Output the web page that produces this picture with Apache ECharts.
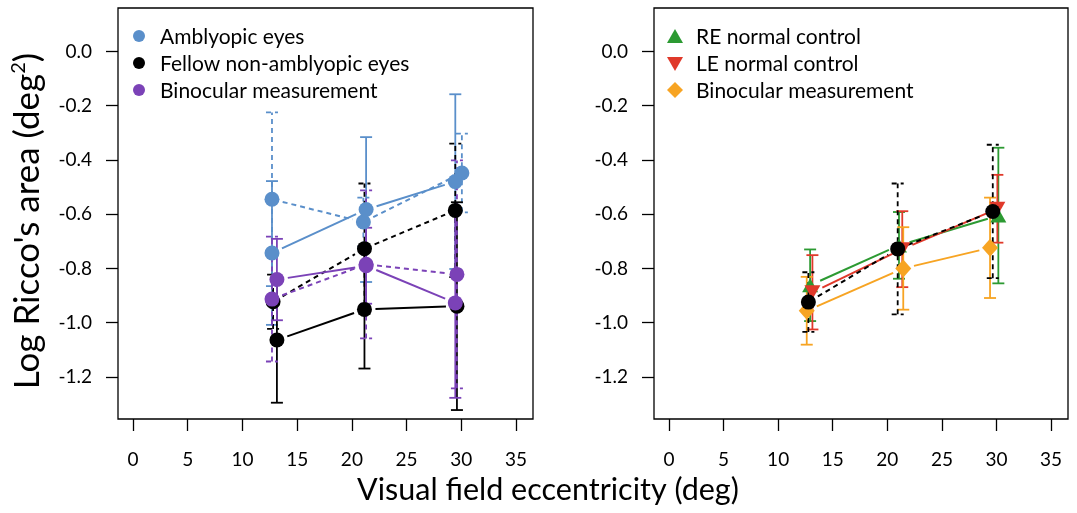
<!DOCTYPE html>
<html lang="en">
<head>
    <meta charset="UTF-8">
    <title>Log Ricco's area vs eccentricity</title>
    <script src="https://cdn.jsdelivr.net/npm/echarts@6.0.0/dist/echarts.min.js"></script>
    <style>
        body { margin: 0; padding: 0; background: #fff; }
        #chart { width: 1077px; height: 513px; }
    </style>
</head>
<body>
    <div id="chart"></div>
    <script>
        // tick labels
        const xTicks = [0, 5, 10, 15, 20, 25, 30, 35];
        const yTicks = [0, -0.2, -0.4, -0.6, -0.8, -1.0, -1.2];

        // left panel: amblyopic group (solid / dashed = two conditions)
        const ambSolidX = [12.7, 21.3, 29.45];
        const ambSolidY = [-0.743, -0.583, -0.48];
        const ambSolidErr = [0.265, 0.267, 0.322];
        const ambDashX = [12.7, 21.05, 30.05];
        const ambDashY = [-0.545, -0.629, -0.448];
        const ambDashErr = [0.32, 0.09, 0.145];

        const fellowSolidX = [13.15, 21.15, 29.6];
        const fellowSolidY = [-1.064, -0.951, -0.939];
        const fellowSolidErr = [0.231, 0.218, 0.383];
        const fellowDashX = [12.8, 21.15, 29.45];
        const fellowDashY = [-0.923, -0.727, -0.586];
        const fellowDashErr = [0.1, 0.24, 0.246];

        const binoSolidX = [13.15, 21.3, 29.45];
        const binoSolidY = [-0.841, -0.79, -0.927];
        const binoSolidErr = [0.15, 0.14, 0.35];
        const binoDashX = [12.7, 21.3, 29.6];
        const binoDashY = [-0.913, -0.785, -0.822];
        const binoDashErr = [0.23, 0.273, 0.42];

        // right panel: normal controls
        const reX = [12.93, 21.07, 30.17];
        const reY = [-0.862, -0.715, -0.605];
        const reErr = [0.132, 0.123, 0.25];
        const leX = [13.14, 21.37, 30.08];
        const leY = [-0.888, -0.729, -0.58];
        const leErr = [0.137, 0.14, 0.125];
        const ctrlBinoX = [12.62, 21.46, 29.41];
        const ctrlBinoY = [-0.956, -0.8, -0.724];
        const ctrlBinoErr = [0.125, 0.152, 0.185];
        const ctrlMeanX = [12.77, 20.95, 29.66];
        const ctrlMeanY = [-0.924, -0.728, -0.59];
        const ctrlMeanErr = [0.11, 0.241, 0.246];

        const FONT = 'Lato';
        const BLUE = '#5a8fca', BLACK = '#000000', PURPLE = '#7b42b7';
        const GREEN = '#2c9a32', RED = '#e0392a', ORANGE = '#f7a423';
        const DASH = [5, 4];

        // error bars + lines with gaps (R type="b") + markers for one series
        function group(panel, xs, ys, errs, color, dashed, symbol, size, rotate) {
            const dash = dashed ? DASH : null;
            const errSeries = {
                type: 'custom',
                xAxisIndex: panel, yAxisIndex: panel,
                data: xs.map((x, i) => [x, ys[i] - errs[i], ys[i] + errs[i]]),
                renderItem: function (params, api) {
                    const lo = api.coord([api.value(0), api.value(1)]);
                    const hi = api.coord([api.value(0), api.value(2)]);
                    const st = { stroke: color, lineWidth: 1.8, lineDash: dash, fill: null };
                    return {
                        type: 'group',
                        children: [
                            { type: 'line', shape: { x1: lo[0], y1: lo[1], x2: hi[0], y2: hi[1] }, style: st },
                            { type: 'line', shape: { x1: lo[0] - 6, y1: lo[1], x2: lo[0] + 6, y2: lo[1] }, style: st },
                            { type: 'line', shape: { x1: hi[0] - 6, y1: hi[1], x2: hi[0] + 6, y2: hi[1] }, style: st }
                        ]
                    };
                },
                silent: true, z: 2
            };
            const segs = [];
            for (let i = 0; i < xs.length - 1; i++) segs.push([xs[i], ys[i], xs[i + 1], ys[i + 1]]);
            const lineSeries = {
                type: 'custom',
                xAxisIndex: panel, yAxisIndex: panel,
                data: segs,
                renderItem: function (params, api) {
                    const a = api.coord([api.value(0), api.value(1)]);
                    const b = api.coord([api.value(2), api.value(3)]);
                    const dx = b[0] - a[0], dy = b[1] - a[1];
                    const len = Math.sqrt(dx * dx + dy * dy);
                    const g = 11;
                    if (len < 2 * g) return null;
                    const ux = dx / len, uy = dy / len;
                    return {
                        type: 'line',
                        shape: { x1: a[0] + ux * g, y1: a[1] + uy * g, x2: b[0] - ux * g, y2: b[1] - uy * g },
                        style: { stroke: color, lineWidth: 2, lineDash: dash }
                    };
                },
                silent: true, z: 3
            };
            const markSeries = {
                type: 'scatter',
                xAxisIndex: panel, yAxisIndex: panel,
                data: xs.map((x, i) => [x, ys[i]]),
                symbol: symbol,
                symbolSize: size,
                symbolRotate: rotate || 0,
                itemStyle: { color: color, opacity: 1 },
                silent: true, z: 4
            };
            return [errSeries, lineSeries, markSeries];
        }

        function xAxisFor(idx) {
            return {
                type: 'value', gridIndex: idx, min: -1.37, max: 36.55, position: 'bottom',
                axisLine: { show: false, onZero: false },
                splitLine: { show: false },
                axisTick: { show: true, length: 12, customValues: xTicks, lineStyle: { color: '#000', width: 1.3 } },
                axisLabel: { customValues: xTicks, margin: 31, fontFamily: FONT, fontSize: 19, color: '#000' }
            };
        }
        function yAxisFor(idx) {
            return {
                type: 'value', gridIndex: idx, min: -1.355, max: 0.16, position: 'left',
                axisLine: { show: false, onZero: false },
                splitLine: { show: false },
                axisTick: { show: true, length: 12, customValues: yTicks, lineStyle: { color: '#000', width: 1.3 } },
                axisLabel: {
                    customValues: yTicks, margin: 26, fontFamily: FONT, fontSize: 19, color: '#000',
                    formatter: v => (Math.abs(v) < 1e-9 ? 0 : v).toFixed(1)
                }
            };
        }

        const series = [].concat(
            group(0, ambDashX, ambDashY, ambDashErr, BLUE, true, 'circle', 15),
            group(0, ambSolidX, ambSolidY, ambSolidErr, BLUE, false, 'circle', 15),
            group(0, fellowDashX, fellowDashY, fellowDashErr, BLACK, true, 'circle', 15),
            group(0, fellowSolidX, fellowSolidY, fellowSolidErr, BLACK, false, 'circle', 15),
            group(0, binoDashX, binoDashY, binoDashErr, PURPLE, true, 'circle', 15),
            group(0, binoSolidX, binoSolidY, binoSolidErr, PURPLE, false, 'circle', 15),
            group(1, reX, reY, reErr, GREEN, false, 'triangle', [16, 14]),
            group(1, leX, leY, leErr, RED, false, 'triangle', [16, 14], 180),
            group(1, ctrlBinoX, ctrlBinoY, ctrlBinoErr, ORANGE, false, 'diamond', [16, 18]),
            group(1, ctrlMeanX, ctrlMeanY, ctrlMeanErr, BLACK, true, 'circle', 15)
        );

        function legendText(x, y, txt) {
            return { type: 'text', x: x, y: y, style: { text: txt, fontFamily: FONT, fontSize: 21, fill: '#000', textVerticalAlign: 'middle' } };
        }

        const chart = echarts.init(document.getElementById('chart'));
        chart.setOption({
            animation: false,
            grid: [
                { left: 118, top: 8, width: 415, height: 411, show: true, borderColor: '#000', borderWidth: 1.3 },
                { left: 654, top: 8, width: 414, height: 411, show: true, borderColor: '#000', borderWidth: 1.3 }
            ],
            xAxis: [xAxisFor(0), xAxisFor(1)],
            yAxis: [yAxisFor(0), yAxisFor(1)],
            series: series,
            graphic: [
                { type: 'circle', shape: { cx: 139, cy: 36, r: 6 }, style: { fill: BLUE } },
                { type: 'circle', shape: { cx: 139, cy: 63, r: 6 }, style: { fill: BLACK } },
                { type: 'circle', shape: { cx: 139, cy: 90, r: 6 }, style: { fill: PURPLE } },
                legendText(160, 37, 'Amblyopic eyes'),
                legendText(160, 64, 'Fellow non-amblyopic eyes'),
                legendText(160, 91, 'Binocular measurement'),
                { type: 'polygon', shape: { points: [[675, 29], [683, 43], [667, 43]] }, style: { fill: GREEN } },
                { type: 'polygon', shape: { points: [[667, 57], [683, 57], [675, 71]] }, style: { fill: RED } },
                { type: 'polygon', shape: { points: [[675, 82], [683, 90], [675, 98], [667, 90]] }, style: { fill: ORANGE } },
                legendText(696, 37, 'RE normal control'),
                legendText(696, 64, 'LE normal control'),
                legendText(696, 91, 'Binocular measurement'),
                {
                    type: 'text', x: 548, y: 490,
                    style: { text: 'Visual field eccentricity (deg)', fontFamily: FONT, fontSize: 30.5, fill: '#000', textAlign: 'center', textVerticalAlign: 'middle' }
                },
                {
                    type: 'text', x: 28, y: 221, rotation: Math.PI / 2,
                    style: {
                        text: '{a|Log Ricco\'s area (deg}{s|2}{a|)}',
                        textAlign: 'center', textVerticalAlign: 'middle',
                        rich: {
                            a: { fontFamily: FONT, fontSize: 35, fill: '#000', lineHeight: 40 },
                            s: { fontFamily: FONT, fontSize: 20, fill: '#000', lineHeight: 40, padding: [0, 0, 18, 0] }
                        }
                    }
                }
            ]
        });
    </script>
</body>
</html>
